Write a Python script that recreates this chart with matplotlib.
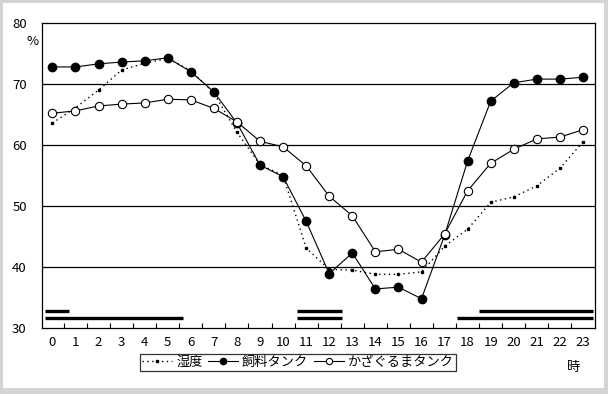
import matplotlib
matplotlib.use('Agg')
from matplotlib import pyplot as plt
from matplotlib.patches import Rectangle

plt.rcParams['font.family'] = ['Noto Sans CJK JP', 'DejaVu Sans']
plt.rcParams['font.size'] = 9

hours = list(range(24))
hour_labels = [str(h) for h in hours]

# 湿度
humidity = [63.6, 66.1, 69.0, 72.3, 73.4, 74.2, 72.2, 68.5, 62.1, 56.8, 55.0, 43.1,
            39.6, 39.5, 38.8, 38.8, 39.2, 43.4, 46.2, 50.6, 51.5, 53.3, 56.2, 60.5]
# 飼料タンク
feed_tank = [72.8, 72.8, 73.3, 73.6, 73.8, 74.3, 72.0, 68.7, 63.6, 56.7, 54.8, 47.5,
             38.9, 42.3, 36.4, 36.7, 34.8, 45.2, 57.4, 67.2, 70.2, 70.8, 70.8, 71.1]
# かざぐるまタンク
pinwheel_tank = [65.2, 65.6, 66.4, 66.7, 66.9, 67.5, 67.4, 66.0, 63.8, 60.6, 59.7, 56.6,
                 51.6, 48.4, 42.5, 42.9, 40.8, 45.4, 52.5, 57.0, 59.3, 61.0, 61.3, 62.5]

# 時間帯バー (start, end)
upper_bars = [(-0.3, 0.7), (10.6, 12.55), (18.5, 23.45)]
lower_bars = [(-0.3, 5.65), (10.6, 12.55), (17.55, 23.45)]

fig = plt.figure(figsize=(6.08, 3.94), dpi=100, facecolor='#d4d4d4')
fig.patches.append(Rectangle((3 / 608, 6 / 394), 601 / 608, 385 / 394,
                             transform=fig.transFigure, facecolor='white',
                             edgecolor='none', zorder=-10))

ax = fig.add_axes([42 / 608, 1 - 328 / 394, 553 / 608, 305 / 394])

for y in [40, 50, 60, 70]:
    ax.axhline(y, color='black', linewidth=0.9, zorder=1)

ax.plot(hours, humidity, color='black', linestyle=(0, (1, 2.5)), linewidth=1.0,
        marker='s', markersize=2.0, label='湿度', zorder=3)
ax.plot(hours, feed_tank, color='black', linewidth=0.8, marker='o', markersize=6.0,
        markerfacecolor='black', markeredgecolor='black', label='飼料タンク', zorder=4)
ax.plot(hours, pinwheel_tank, color='black', linewidth=0.8, marker='o', markersize=6.0,
        markerfacecolor='white', markeredgecolor='black', markeredgewidth=0.8,
        label='かざぐるまタンク', zorder=5)

for s, e in upper_bars:
    ax.hlines(32.8, s, e, color='black', linewidth=2.4, capstyle='butt', zorder=2)
for s, e in lower_bars:
    ax.hlines(31.6, s, e, color='black', linewidth=2.4, capstyle='butt', zorder=2)

ax.set_xlim(-0.45, 23.52)
ax.set_ylim(30, 80)
ax.set_yticks([30, 40, 50, 60, 70, 80])
ax.tick_params(axis='y', length=0, pad=11, labelsize=9.5)
ax.set_xticks(hours)
ax.set_xticklabels(hour_labels)
ax.set_xticks([h + 0.5 for h in range(23)], minor=True)
ax.tick_params(axis='x', which='major', length=0, pad=6, labelsize=9.5)
ax.tick_params(axis='x', which='minor', direction='in', length=3.5, width=0.8)
for sp in ax.spines.values():
    sp.set_linewidth(0.9)

ax.text(-0.85, 76.9, '%', ha='center', va='center', fontsize=9.5, clip_on=False)
ax.text(22.6, 23.5, '時', ha='center', va='center', fontsize=9.5, clip_on=False)

leg = fig.legend(loc='center', bbox_to_anchor=(298 / 608, 1 - 362.5 / 394), ncol=3,
                 frameon=True, fancybox=False, handlelength=2.3, handletextpad=0.3,
                 columnspacing=0.4, borderpad=0.15, borderaxespad=0, fontsize=9.5,
                 markerscale=0.75)
leg.get_frame().set_edgecolor('black')
leg.get_frame().set_linewidth(0.9)

fig.savefig('out.png', dpi=100, facecolor=fig.get_facecolor())
